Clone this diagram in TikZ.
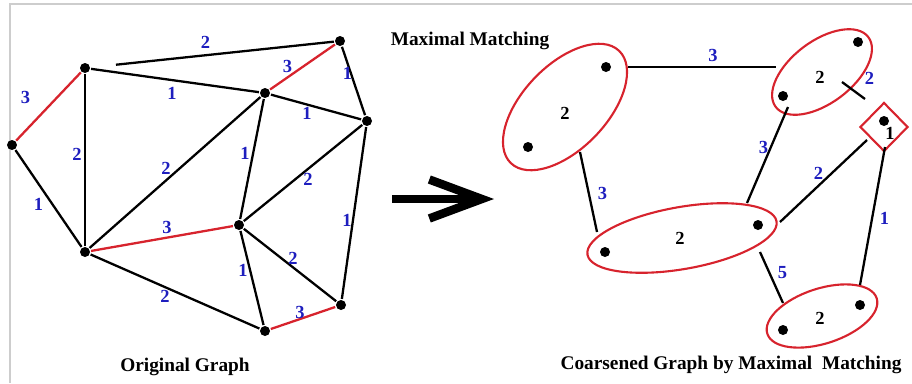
\documentclass[tikz,border=0pt]{standalone}
\usepackage{fontspec}
\setmainfont{Liberation Serif}
\usetikzlibrary{arrows.meta,positioning,shapes.geometric}
\definecolor{wtBlue}{RGB}{30,30,190}
\definecolor{mRed}{RGB}{215,35,45}
\definecolor{frameG}{RGB}{205,205,205}

\begin{document}
\begin{tikzpicture}[
  x=0.02cm, y=-0.02cm, line width=1.3pt,
  vtx/.style={circle, fill=black, inner sep=0pt, minimum size=0.2cm},
  wt/.style={font=\bfseries\fontsize{10.5}{12}\selectfont, text=wtBlue, inner sep=0pt},
  cw/.style={font=\bfseries\fontsize{10.5}{12}\selectfont, inner sep=0pt},
  match/.style={draw=mRed, line width=1.3pt},
  clus/.style={ellipse, draw=mRed, line width=1.2pt, inner sep=0pt},
  capt/.style={font=\bfseries\fontsize{11}{13}\selectfont}]

  \useasboundingbox (0,0) rectangle (912,383);
  \draw[frameG, line width=0.8pt] (10,383) -- (10,4) -- (912,4);

  % original graph
  \node[vtx] (a) at (12,145) {};
  \node[vtx] (b) at (85,68) {};
  \node[vtx] (c) at (340,41) {};
  \node[vtx] (d) at (265,93) {};
  \node[vtx] (e) at (367,121) {};
  \node[vtx] (f) at (85,252) {};
  \node[vtx] (g) at (239,225) {};
  \node[vtx] (h) at (265,331) {};
  \node[vtx] (i) at (341,305) {};

  \draw[match] (a) -- node[wt, shift={(-23,-9)}]{3} (b);
  \draw (a) -- node[wt, shift={(-10,6)}]{1} (f);
  \draw (b) -- node[wt, shift={(-8,-6)}]{2} (f);
  \draw[shorten <=0.5cm] (b) -- node[wt, shift={(-7,-12)}]{2} (c);
  \draw (b) -- node[wt, shift={(-3,13)}]{1} (d);
  \draw[match] (d) -- node[wt, shift={(-15,-1)}]{3} (c);
  \draw (c) -- node[wt, shift={(-6,-8)}]{1} (e);
  \draw (d) -- node[wt, shift={(-9,6)}]{1} (e);
  \draw (d) -- node[wt, shift={(-9,-4)}]{2} (f);
  \draw (d) -- node[wt, shift={(-7,-6)}]{1} (g);
  \draw (e) -- node[wt, shift={(5,6)}]{2} (g);
  \draw (e) -- node[wt, shift={(-7,7)}]{1} (i);
  \draw[match] (f) -- node[wt, shift={(5,-11)}]{3} (g);
  \draw (f) -- node[wt, shift={(-10,5)}]{2} (h);
  \draw (g) -- node[wt, shift={(-9,-8)}]{1} (h);
  \draw (g) -- node[wt, shift={(3,-7)}]{2} (i);
  \draw[match] (h) -- node[wt, shift={(-3,-6)}]{3} (i);

  \node[capt] (og) at (185,367) {Original Graph};

  % arrow
  \coordinate (arrS) at (392,199);
  \coordinate (arrE) at (494,199);
  \draw[line width=0.17cm, -{Straight Barb[length=1.05cm, width=0.78cm]}] (arrS) -- (arrE);

  % coarsened graph
  \node[capt] (mm) at (470,41) {Maximal Matching};

  \node[clus, minimum width=3.12cm, minimum height=1.68cm, rotate=46] (c1) at (565,107) {};
  \node[clus, minimum width=2.32cm, minimum height=1.24cm, rotate=37] (c2) at (822,72) {};
  \node[clus, minimum width=3.84cm, minimum height=1.24cm, rotate=10] (c3) at (682,238) {};
  \node[clus, minimum width=2.30cm, minimum height=1.10cm, rotate=18] (c4) at (822,316) {};
  \node[diamond, draw=mRed, line width=1.2pt, inner sep=0pt,
        minimum width=0.96cm, minimum height=0.98cm] (dm) at (884,127) {};

  \node[vtx] (p1) at (606,67) {};
  \node[vtx] (p2) at (528,147) {};
  \node[vtx] (q1) at (858,42) {};
  \node[vtx] (q2) at (783,96) {};
  \node[vtx] (r) at (884,121) {};
  \node[vtx] (s1) at (605,252) {};
  \node[vtx] (s2) at (758,225) {};
  \node[vtx] (t1) at (783,330) {};
  \node[vtx] (t2) at (860,305) {};

  \node[cw] (c1w) at (565,113) {2};
  \node[cw] (c2w) at (820,77) {2};
  \node[cw] (c3w) at (680,238) {2};
  \node[cw] (c4w) at (820,318) {2};
  \node[cw] (dmw) at (890,133) {1};

  \coordinate (c1e) at (628,67);
  \coordinate (c2l) at (776,67);
  \coordinate (c1s) at (580,152);
  \coordinate (c3n) at (597,232);
  \coordinate (c2s) at (788,107);
  \coordinate (c3ne) at (747,203);
  \coordinate (c2se) at (842,82);
  \coordinate (dmnw) at (865,99);
  \coordinate (dmsw) at (867,140);
  \coordinate (c3e) at (780,222);
  \coordinate (dms) at (885,147);
  \coordinate (c4n) at (860,285);
  \coordinate (c3se) at (760,252);
  \coordinate (c4nw) at (783,303);

  \draw (c1e) -- node[wt, shift={(11,-12)}]{3} (c2l);
  \draw (c1s) -- node[wt, shift={(14,1)}]{3} (c3n);
  \draw (c2s) -- node[wt, shift={(-4,-8)}]{3} (c3ne);
  \draw (c2se) -- node[wt, shift={(16,-12)}]{2} (dmnw);
  \draw (dmsw) -- node[wt, shift={(-5,-8)}]{2} (c3e);
  \draw (dms) -- node[wt, shift={(12,2)}]{1} (c4n);
  \draw (c3se) -- node[wt, shift={(11,-5)}]{5} (c4nw);

  \node[capt] (cg) at (731,365) {Coarsened Graph by Maximal\ \ Matching};
\end{tikzpicture}
\end{document}
